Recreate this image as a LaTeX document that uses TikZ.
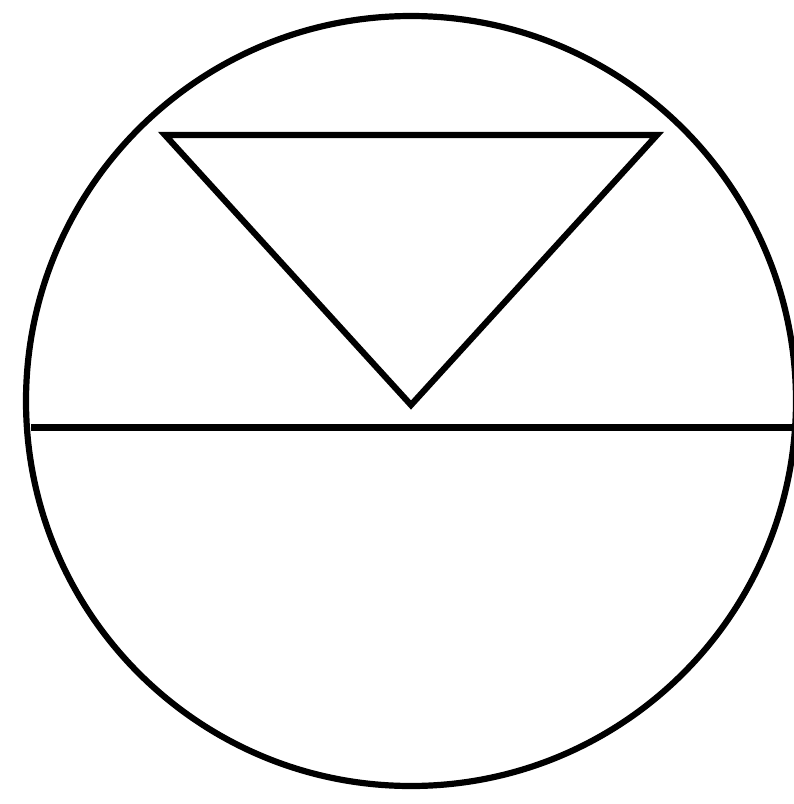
\documentclass[tikz,border=0pt]{standalone}
\begin{document}
\begin{tikzpicture}[x=1pt,y=-1pt,
  stroke/.style={draw=black,line width=6.2pt,line join=miter}]
\useasboundingbox (0,0) rectangle (794,804);
\clip (0,0) rectangle (794,804);
\fill[white] (0,0) rectangle (794,804);
\node[circle,stroke,minimum size=770pt,inner sep=0pt,outer sep=0pt] (ring) at (411,401) {};
\coordinate (tl) at (165,135);
\coordinate (tr) at (657,135);
\coordinate (tb) at (411,405);
\draw[stroke] (tl) -- (tr) -- (tb) -- cycle;
\coordinate (hl) at (31,427.5);
\coordinate (hr) at (800,427.5);
\draw[stroke] (hl) -- (hr);
\end{tikzpicture}
\end{document}
